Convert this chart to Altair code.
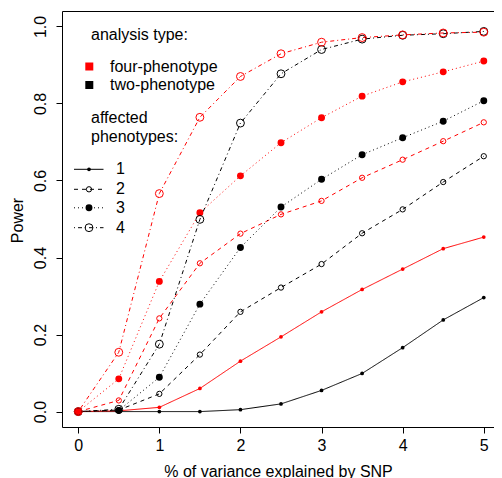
import altair as alt
import pandas as pd

# ---- data ----
x_values = [0, 0.5, 1, 1.5, 2, 2.5, 3, 3.5, 4, 4.5, 5]
analysis_types = ["two-phenotype", "four-phenotype"]
affected_levels = ["1", "2", "3", "4"]

two_1 = [0, 0.0, 0.0, 0.0, 0.005, 0.02, 0.055, 0.099, 0.166, 0.238, 0.296]
two_2 = [0, 0.004, 0.046, 0.148, 0.259, 0.322, 0.383, 0.463, 0.525, 0.596, 0.663]
two_3 = [0, 0.003, 0.089, 0.279, 0.426, 0.531, 0.603, 0.667, 0.711, 0.754, 0.807]
two_4 = [0, 0.006, 0.175, 0.499, 0.749, 0.877, 0.940, 0.967, 0.977, 0.981, 0.987]

four_1 = [0, 0.002, 0.011, 0.060, 0.131, 0.194, 0.259, 0.317, 0.370, 0.423, 0.453]
four_2 = [0, 0.029, 0.242, 0.385, 0.462, 0.512, 0.547, 0.607, 0.654, 0.702, 0.751]
four_3 = [0, 0.085, 0.338, 0.516, 0.612, 0.698, 0.763, 0.819, 0.856, 0.882, 0.910]
four_4 = [0, 0.154, 0.566, 0.764, 0.870, 0.929, 0.959, 0.971, 0.978, 0.983, 0.985]

series = {
    ("two-phenotype", "1"): two_1,
    ("four-phenotype", "1"): four_1,
    ("two-phenotype", "2"): two_2,
    ("four-phenotype", "2"): four_2,
    ("two-phenotype", "3"): two_3,
    ("four-phenotype", "3"): four_3,
    ("two-phenotype", "4"): two_4,
    ("four-phenotype", "4"): four_4,
}

rows = []
for (a, t), vals in series.items():
    for xv, v in zip(x_values, vals):
        rows.append({"x": xv, "power": v, "analysis": a, "affected": t})
df = pd.DataFrame(rows)

# ---- styles ----
FONT = "Liberation Sans"
styles = {
    "1": dict(dash=[1, 0], size=14, filled=True),
    "2": dict(dash=[4, 4], size=28, filled=False),
    "3": dict(dash=[1, 3], size=48, filled=True),
    "4": dict(dash=[1, 3, 4, 3], size=62, filled=False),
}

color_scale = alt.Scale(domain=analysis_types, range=["#000000", "#ff0000"])
x_enc = alt.X(
    "x:Q",
    scale=alt.Scale(domain=[-0.2, 5.126], nice=False, zero=False),
    axis=alt.Axis(
        values=[0, 1, 2, 3, 4, 5], format="d", title="% of variance explained by SNP",
        grid=False, domain=False, tickSize=6, labelPadding=4, titlePadding=10,
        labelFlush=False, labelOverlap=False,
    ),
)
y_enc = alt.Y(
    "power:Q",
    scale=alt.Scale(domain=[-0.04, 1.04], nice=False, zero=False),
    axis=alt.Axis(
        values=[0, 0.2, 0.4, 0.6, 0.8, 1.0], format=".1f", title="Power",
        grid=False, domain=False, tickSize=6, labelPadding=11,
        labelAngle=-90, labelAlign="center", labelBaseline="alphabetic",
        labelFlush=False, labelOverlap=False, titleX=-37, titleY=209,
    ),
)
color_enc = alt.Color("analysis:N", scale=color_scale, legend=None)

layers = []
for t in affected_levels:
    st = styles[t]
    sub = df[df["affected"] == t]
    line = alt.Chart(sub).mark_line(strokeWidth=1, strokeDash=st["dash"]).encode(
        x=x_enc, y=y_enc, color=color_enc, detail="analysis:N"
    )
    layers.append(line)
for t in affected_levels:
    st = styles[t]
    sub = df[df["affected"] == t]
    if st["filled"]:
        pts = alt.Chart(sub).mark_circle(size=st["size"], opacity=1)
    else:
        pts = alt.Chart(sub).mark_point(shape="circle", size=st["size"], filled=False,
                                        strokeWidth=1, opacity=1)
    layers.append(pts.encode(x=x_enc, y=y_enc, color=color_enc))

# ---- manual legend (pixel placement inside the plot) ----
one = pd.DataFrame({"k": [0]})


def txt(s, x, y):
    return alt.Chart(one).mark_text(text=s, align="left", baseline="middle", font=FONT,
                                    fontSize=16, color="black").encode(
        x=alt.value(x), y=alt.value(y))


layers.append(txt("analysis type:", 29, 24))
legend_sq = [("four-phenotype", "#ff0000", 55.5), ("two-phenotype", "#000000", 74)]
for name, col, yy in legend_sq:
    layers.append(alt.Chart(one).mark_point(shape="square", filled=True, size=64, color=col,
                                            opacity=1).encode(x=alt.value(27.3), y=alt.value(yy)))
    layers.append(txt(name, 48, yy))
layers.append(txt("affected", 29, 107.3))
layers.append(txt("phenotypes:", 29, 125.7))

leg_y = {"1": 158.3, "2": 178.3, "3": 196.8, "4": 216.7}
for t in affected_levels:
    st = styles[t]
    yy = leg_y[t]
    layers.append(alt.Chart(one).mark_rule(color="black", strokeWidth=1, strokeDash=st["dash"]).encode(
        x=alt.value(12), x2=alt.value(41.5), y=alt.value(yy)))
    if st["filled"]:
        p = alt.Chart(one).mark_circle(size=st["size"], color="black", opacity=1)
    else:
        p = alt.Chart(one).mark_point(shape="circle", size=st["size"], filled=False,
                                      color="black", strokeWidth=1, opacity=1)
    layers.append(p.encode(x=alt.value(27), y=alt.value(yy)))
    layers.append(txt(t, 54, yy))

chart = alt.layer(*layers).properties(
    width=432, height=416,
    autosize=alt.AutoSizeParams(type="none"),
    padding={"left": 54, "top": 3, "right": 0, "bottom": 51},
).configure_view(stroke="black", strokeWidth=1).configure_axis(
    labelFont=FONT, titleFont=FONT, labelFontSize=16, titleFontSize=16,
    labelColor="black", titleColor="black", tickColor="black", titleFontWeight="normal",
)

chart.save("out.html", embed_options={"renderer": "svg", "actions": False})
